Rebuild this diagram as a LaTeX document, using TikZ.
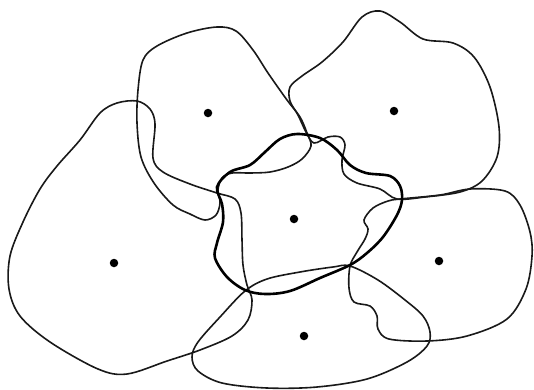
\documentclass[tikz,border=0pt]{standalone}
\begin{document}
\begin{tikzpicture}[x=1pt,y=-1pt,
  blob/.style={draw=black!90,line width=1.6pt,smooth cycle,tension=0.55},
  thickblob/.style={draw=black,line width=2.6pt,smooth cycle,tension=0.55},
  site/.style={circle,fill=black,inner sep=0pt,minimum size=8.5pt}]
\useasboundingbox[fill=white] (0,0) rectangle (534,389);
% A top-left
\draw[blob] plot coordinates {(143,60) (157,46) (187,33) (217,27) (236,31) (253,50) (268,73) (287,100) (300,117) (307,133) (311,146) (302,159) (288,167) (270,172) (250,173) (232,173) (222,178) (218,190) (220,203) (216,215) (205,220) (190,214) (173,205) (154,183) (141,157) (137,123) (138,90)};
% B top-right
\draw[blob] plot coordinates {(290,87) (302,76) (322,62) (343,42) (362,17) (380,11) (400,22) (423,39) (453,43) (474,57) (490,87) (499,127) (497,157) (482,181) (460,192) (425,197) (397,199) (380,189) (357,183) (344,174) (342,160) (345,145) (340,137) (328,137) (314,143) (306,132) (298,115) (290,101)};
% E left
\draw[blob] plot coordinates {(40,189) (57,166) (80,140) (100,113) (117,103) (137,101) (150,109) (155,124) (153,158) (163,172) (190,184) (217,193) (235,199) (241,213) (242,240) (243,265) (247,285) (252,300) (248,320) (232,336) (200,350) (167,361) (127,374) (98,369) (50,342) (20,316) (9,289) (10,256) (23,222)};
% F right
\draw[blob] plot coordinates {(400,199) (440,195) (470,189) (505,191) (520,205) (530,232) (532,256) (526,289) (507,319) (467,336) (427,341) (389,339) (378,329) (377,316) (370,306) (354,302) (349,288) (350,266) (357,252) (365,239) (368,229) (364,220) (373,208) (388,201)};
% G bottom
\draw[blob] plot coordinates {(350,266) (333,267) (300,272) (267,279) (245,291) (220,317) (198,342) (192,357) (198,371) (222,383) (267,388) (317,387) (367,379) (407,362) (427,346) (430,332) (423,316) (405,300) (378,280)};
% C centre (thick)
\draw[thickblob] plot coordinates {(217,187) (230,172) (250,165) (265,152) (280,139) (297,134) (320,138) (337,150) (350,165) (366,173) (390,176) (400,186) (402,200) (397,215) (383,237) (367,253) (350,265) (320,278) (290,291) (265,294) (245,290) (227,277) (215,258) (217,243) (223,222) (222,204)};
% sites
\node[site] (sa) at (208,113) {};
\node[site] (sb) at (394,111) {};
\node[site] (sc) at (294,219) {};
\node[site] (se) at (114,263) {};
\node[site] (sf) at (439,261) {};
\node[site] (sg) at (304,336) {};
\end{tikzpicture}
\end{document}
